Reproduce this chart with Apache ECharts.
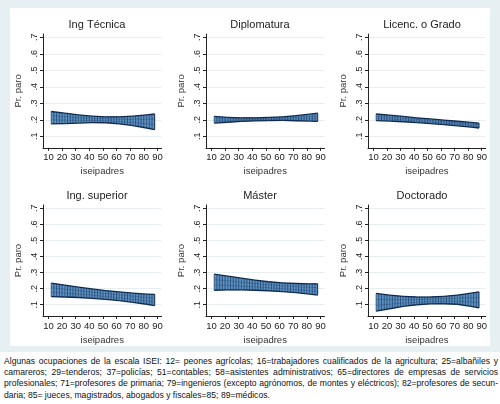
<!DOCTYPE html><html><head><meta charset="utf-8">
<script src="https://cdn.jsdelivr.net/npm/echarts@6/dist/echarts.min.js"></script>
<style>body{margin:0;background:#fff;font-family:"Liberation Sans",Arial,sans-serif}
#wrap{position:absolute;left:0;top:0;width:500px;height:352px;background:#e6eff1}
#c{position:absolute;left:10px;top:8px;width:480px;height:338px;background:#fff}
#cap{position:absolute;left:4px;top:356px;width:494px;font-size:8.6px;line-height:11.2px;color:#111;text-align:justify}</style></head><body>
<div id="wrap"></div><div id="c"></div>
<div id="cap">Algunas ocupaciones de la escala ISEI: 12= peones agrícolas; 16=trabajadores cualificados de la agricultura; 25=albañiles y camareros; 29=tenderos; 37=policías; 51=contables; 58=asistentes administrativos; 65=directores de empresas de servicios profesionales; 71=profesores de primaria; 79=ingenieros (excepto agrónomos, de montes y eléctricos); 82=profesores de secun-daria; 85= jueces, magistrados, abogados y fiscales=85; 89=médicos.</div>
<script>
const titles=["Ing Técnica","Diplomatura","Licenc. o Grado","Ing. superior","Máster","Doctorado"];
const xs=[12,22,32,42,52,62,72,82,88];
const lower=[
[.175,.177,.180,.183,.182,.175,.165,.150,.140],
[.180,.185,.190,.193,.195,.196,.194,.192,.190],
[.195,.192,.188,.183,.177,.170,.163,.155,.150],
[.150,.148,.145,.140,.133,.125,.115,.103,.095],
[.190,.192,.192,.190,.187,.182,.175,.166,.160],
[.060,.075,.090,.100,.105,.106,.103,.090,.080]];
const upper=[
[.250,.240,.230,.222,.218,.218,.222,.230,.235],
[.220,.215,.212,.212,.214,.218,.225,.234,.240],
[.235,.228,.220,.212,.205,.198,.191,.184,.180],
[.235,.222,.210,.198,.188,.180,.172,.166,.165],
[.290,.278,.265,.253,.243,.236,.232,.230,.230],
[.170,.160,.152,.148,.148,.152,.160,.172,.180]];
const yTicks=[.1,.2,.3,.4,.5,.6,.7];
const xTicks=[10,20,30,40,50,60,70,80,90];
const ch=echarts.init(document.getElementById('c'));
const grids=[],xA=[],yA=[],series=[],gtitles=[];
const colL=[33,196,358],rowT=[26,197];
for(let i=0;i<6;i++){
 const c=i%3,r=Math.floor(i/3);
 grids.push({left:colL[c],top:rowT[r],width:118.5,height:113.8});
 xA.push({gridIndex:i,type:'value',min:6,max:93,name:'iseipadres',nameLocation:'middle',nameGap:19,
  nameTextStyle:{fontSize:9.5,color:'#333'},axisLine:{lineStyle:{color:'#222'}},
  axisTick:{customValues:xTicks,length:3,lineStyle:{color:'#222'}},
  axisLabel:{customValues:xTicks,fontSize:9.5,color:'#222',margin:5},splitLine:{show:false}});
 yA.push({gridIndex:i,type:'value',min:.03,max:.72,name:'Pr. paro',nameLocation:'middle',nameGap:20,nameRotate:90,
  nameTextStyle:{fontSize:9.5,color:'#333'},axisLine:{show:true,lineStyle:{color:'#222'}},
  axisTick:{show:true,customValues:yTicks,length:3,lineStyle:{color:'#222'}},
  axisLabel:{customValues:yTicks,rotate:90,fontSize:9,color:'#222',margin:4,formatter:v=>String(+v.toFixed(1)).replace(/^0/,'')},
  splitLine:{show:true,customValues:yTicks,lineStyle:{color:'#e8eef0',width:1}}});
 gtitles.push({text:titles[i],left:colL[c]+59-10,top:rowT[r]-20,textAlign:'center',textStyle:{fontSize:11,fontWeight:'normal',color:'#222'}});
 const data=xs.map((x,k)=>[x,lower[i][k],upper[i][k]]);
 series.push({type:'custom',xAxisIndex:i,yAxisIndex:i,data:data,encode:{x:0,y:[1,2]},
  renderItem:(p,api)=>{
   const k=p.dataIndex; if(k>=data.length-1) {
     const a=api.coord([data[k][0],data[k][1]]),b=api.coord([data[k][0],data[k][2]]);
     return {type:'line',shape:{x1:a[0],y1:a[1],x2:b[0],y2:b[1]},style:{stroke:'#0f2a4f',lineWidth:1}};}
   const d0=data[k],d1=data[k+1];
   const l0=api.coord([d0[0],d0[1]]),u0=api.coord([d0[0],d0[2]]),l1=api.coord([d1[0],d1[1]]),u1=api.coord([d1[0],d1[2]]);
   const ch2=[{type:'polygon',shape:{points:[l0,l1,u1,u0]},style:{fill:'#5f92c2',stroke:null}}];
   const n=Math.round((l1[0]-l0[0])/2.7);
   for(let j=0;j<n;j++){const t=j/n;const x=l0[0]+(l1[0]-l0[0])*t;
     ch2.push({type:'line',shape:{x1:x,y1:l0[1]+(l1[1]-l0[1])*t,x2:x,y2:u0[1]+(u1[1]-u0[1])*t},style:{stroke:'#163a63',lineWidth:0.7}});}
   for(const f of [0.33,0.66]){
     ch2.push({type:'line',shape:{x1:l0[0],y1:l0[1]+(u0[1]-l0[1])*f,x2:l1[0],y2:l1[1]+(u1[1]-l1[1])*f},style:{stroke:'#163a63',lineWidth:0.5,opacity:0.6}});}
   ch2.push({type:'line',shape:{x1:l0[0],y1:l0[1],x2:l1[0],y2:l1[1]},style:{stroke:'#0f2a4f',lineWidth:1.3}},
     {type:'line',shape:{x1:u0[0],y1:u0[1],x2:u1[0],y2:u1[1]},style:{stroke:'#0f2a4f',lineWidth:1.3}});
   return {type:'group',children:ch2};
  }});
}
ch.setOption({animation:false,title:gtitles,grid:grids,xAxis:xA,yAxis:yA,series:series});
</script></body></html>
